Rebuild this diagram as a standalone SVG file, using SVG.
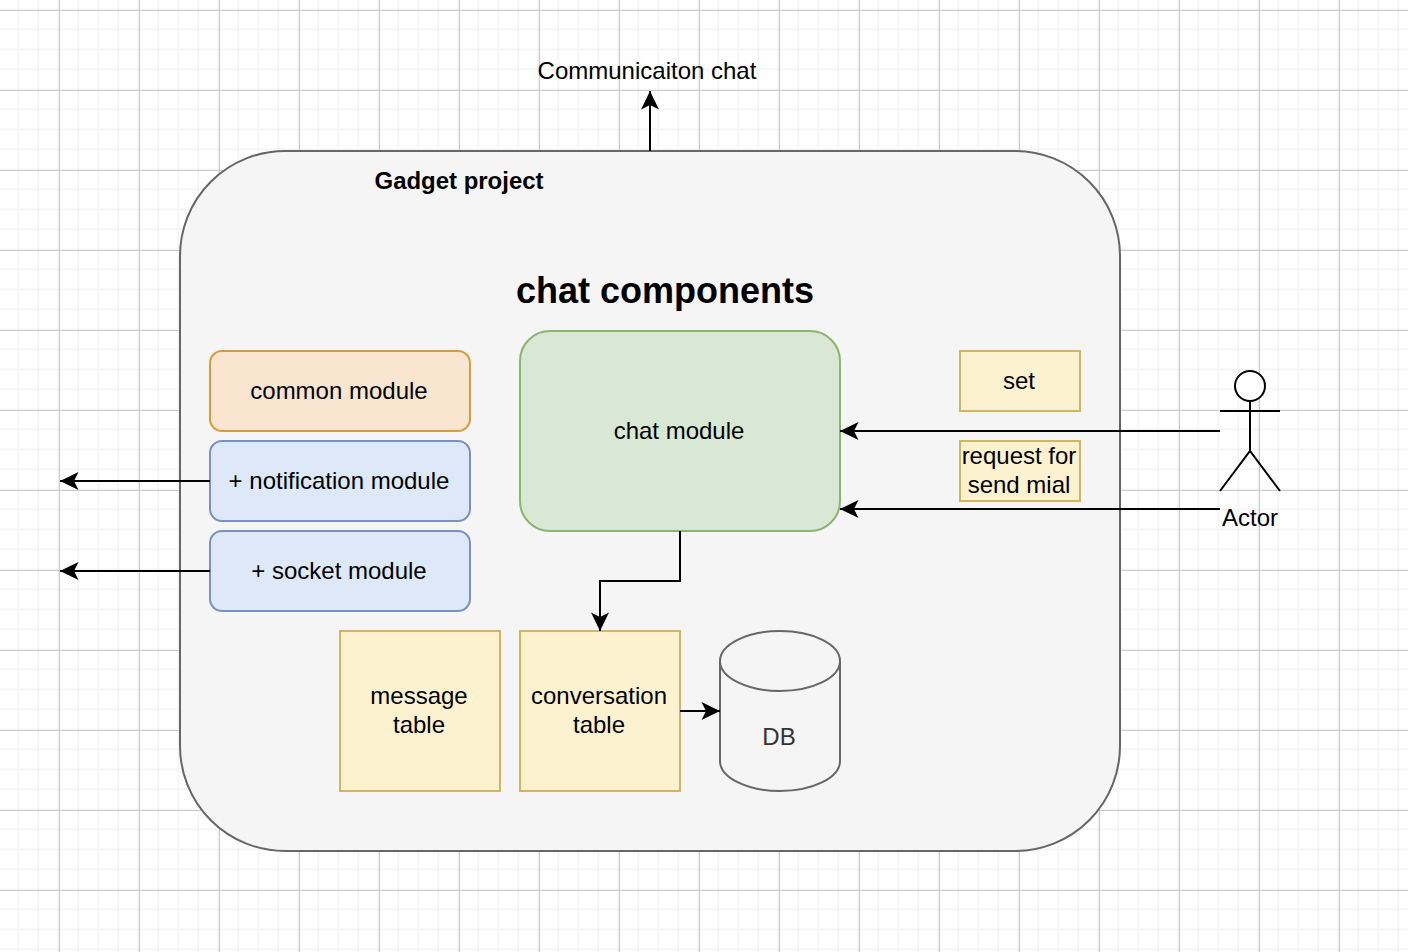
<svg xmlns="http://www.w3.org/2000/svg" width="1408" height="952" viewBox="0 0 1408 952">
<defs>
<pattern id="minor" width="20" height="20" patternUnits="userSpaceOnUse" x="-0.8" y="-9.8"><path d="M19.5 0V20M0 19.5H20" fill="none" stroke="#f3f3f3" stroke-width="1.8"/></pattern>
<pattern id="major" width="80" height="80" patternUnits="userSpaceOnUse" x="-20" y="10"><path d="M79.5 0V80M0 0.5H80" fill="none" stroke="#cbcbcb" stroke-width="1.2"/></pattern>
<marker id="arrow" markerUnits="userSpaceOnUse" markerWidth="22" markerHeight="22" refX="20" refY="11" orient="auto"><path d="M20 11L1.5 2L6 11L1.5 20Z" fill="#000"/></marker>
</defs>
<style>
text{font-family:"Liberation Sans",Arial,sans-serif;font-size:24px;fill:#000;text-anchor:middle}
.y{fill:#fdf2d0;stroke:#d1b65f;stroke-width:2}
.bl{fill:#dde8f8;stroke:#7792c0;stroke-width:2}
.g{stroke:#666;stroke-width:2;fill:#f5f5f5}
.c{fill:none;stroke:#000;stroke-width:2;marker-end:url(#arrow)}
.a{fill:none;stroke:#000;stroke-width:2}
</style>
<rect width="1408" height="952" fill="#fff"/>
<rect width="1408" height="952" fill="url(#minor)"/>
<rect width="1408" height="952" fill="url(#major)"/>
<g id="gadget-project"><rect class="g" x="180" y="151" width="940" height="700" rx="105" ry="105"/><text x="459" y="189" style="font-weight:bold;font-size:24px" textLength="169" lengthAdjust="spacingAndGlyphs">Gadget project</text></g>
<g id="title"><text x="665" y="303" style="font-weight:bold;font-size:36px">chat components</text></g>
<g id="communication-label"><text x="647" y="79">Communicaiton chat</text></g>
<g id="common-module"><rect x="210" y="351" width="260" height="80" rx="12" fill="#fae5d0" stroke="#d79b38" stroke-width="2"/><text x="339" y="399">common module</text></g>
<g id="notification-module"><rect class="bl" x="210" y="441" width="260" height="80" rx="12"/><text x="339" y="489">+ notification module</text></g>
<g id="socket-module"><rect class="bl" x="210" y="531" width="260" height="80" rx="12"/><text x="339" y="579">+ socket module</text></g>
<g id="chat-module"><rect x="520" y="331" width="320" height="200" rx="30" fill="#d9e7d5" stroke="#8ab56f" stroke-width="2"/><text x="679" y="439">chat module</text></g>
<g id="set"><rect class="y" x="960" y="351" width="120" height="60"/><text x="1019" y="389">set</text></g>
<g id="request"><rect class="y" x="960" y="441" width="120" height="60"/><text x="1019" y="464">request for</text><text x="1019" y="493">send mial</text></g>
<g id="message-table"><rect class="y" x="340" y="631" width="160" height="160"/><text x="419" y="704">message</text><text x="419" y="733">table</text></g>
<g id="conversation-table"><rect class="y" x="520" y="631" width="160" height="160"/><text x="599" y="704">conversation</text><text x="599" y="733">table</text></g>
<g id="db"><path class="g" d="M720 661C720 644.4 746.9 631 780 631S840 644.4 840 661V761C840 777.6 813.1 791 780 791S720 777.6 720 761Z"/><path d="M720 661C720 677.6 746.9 691 780 691S840 677.6 840 661" fill="none" stroke="#666" stroke-width="2"/><text x="779" y="745" style="fill:#333">DB</text></g>
<g id="actor"><circle cx="1250" cy="386" r="15" fill="#fff" stroke="#000" stroke-width="2"/><path class="a" d="M1250 401V451M1220 411H1280M1220 491L1250 451L1280 491"/><text x="1250" y="526">Actor</text></g>
<g id="connectors">
<path class="c" d="M650 151V91"/>
<path class="c" d="M210 481H60"/>
<path class="c" d="M210 571H60"/>
<path class="c" d="M1220 431H840"/>
<path class="c" d="M1220 509H840"/>
<path class="c" d="M680 531V581H600V631"/>
<path class="c" d="M680 711H720"/>
</g>
</svg>
